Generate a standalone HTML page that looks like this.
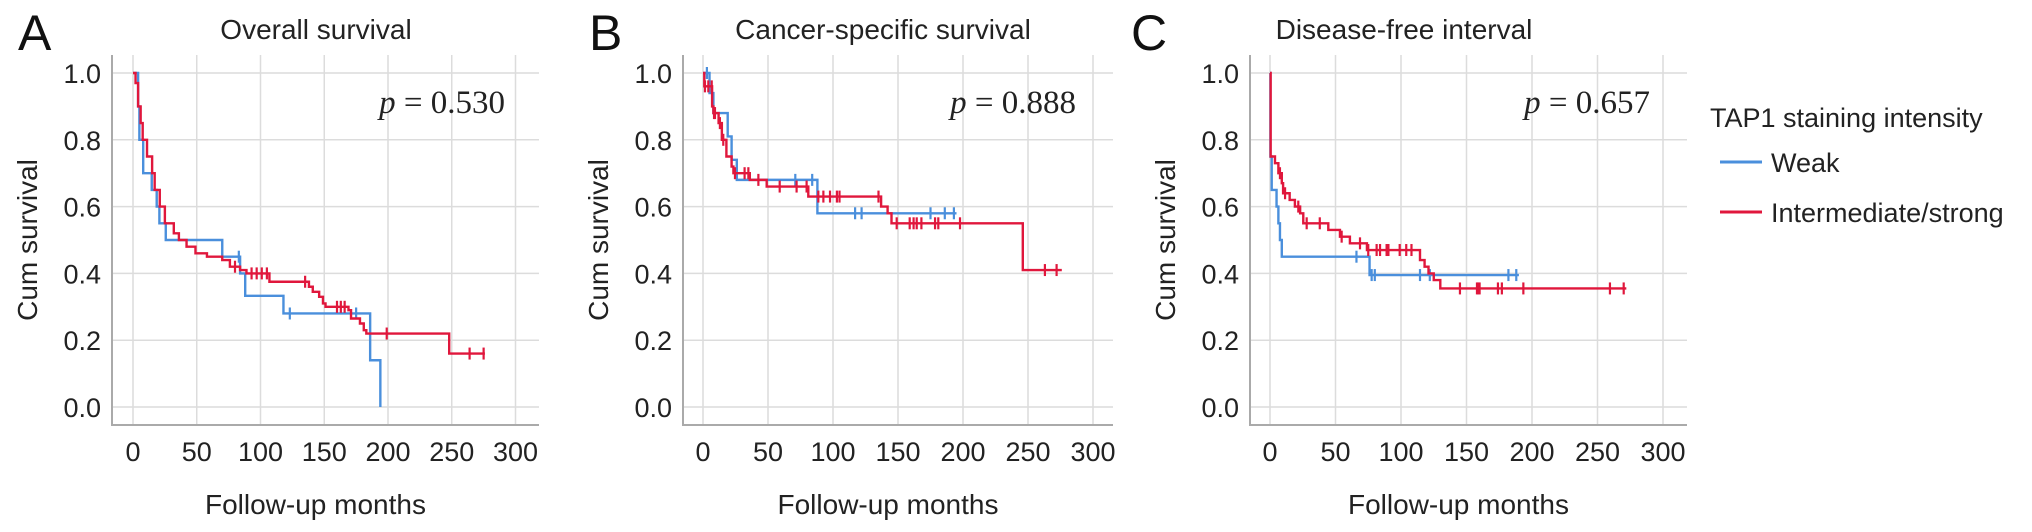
<!DOCTYPE html>
<html><head><meta charset="utf-8"><style>
html,body{margin:0;padding:0;background:#fff;}
svg{display:block;font-family:"Liberation Sans",Arial,sans-serif;}
</style></head><body>
<svg id="chart" width="2032" height="532" viewBox="0 0 2032 532" xmlns="http://www.w3.org/2000/svg"></svg>
<script>
// ---- data ----
const yTicks = [0, 0.2, 0.4, 0.6, 0.8, 1.0];
const xTicks = [0, 50, 100, 150, 200, 250, 300];
const panelTitles = ["Overall survival", "Cancer-specific survival", "Disease-free interval"];
const panelLetters = ["A", "B", "C"];
const pValues = ["0.530", "0.888", "0.657"];

const aWeakT = [0,4,5,8,14.7,18.6,20.7,25.7,70,84,88,118,186,194];
const aWeakS = [1,0.9,0.8,0.7,0.65,0.6,0.55,0.5,0.45,0.4,0.333,0.28,0.14,0];
const aWeakEnd = 194;
const aWeakCens = [83,123,175];
const aStrT = [0,2,4,6,7.6,11,15,17,21,25,32,36,42,49,58,70,76,84,89,107,138,141,146,149,151,169,171,178,181,183,248];
const aStrS = [1,0.97,0.9,0.85,0.8,0.75,0.7,0.65,0.6,0.55,0.52,0.5,0.48,0.46,0.45,0.44,0.42,0.41,0.4,0.375,0.36,0.345,0.33,0.31,0.3,0.29,0.265,0.25,0.23,0.22,0.16];
const aStrEnd = 276;
const aStrCens = [80,93,97,101,105,135,160,163,166,199,264,275];

const bWeakT = [0,5,8,19,22,26,88];
const bWeakS = [1,0.94,0.88,0.81,0.74,0.68,0.58];
const bWeakEnd = 195;
const bWeakCens = [3,71,84,117,122,175,186,193];
const bStrT = [0,1,7,8,12,14.5,18,22,23.4,36,49,81,137,142,145,246];
const bStrS = [1,0.96,0.9,0.88,0.85,0.8,0.75,0.72,0.7,0.68,0.66,0.63,0.6,0.58,0.55,0.41];
const bStrEnd = 276;
const bStrCens = [1.5,4.1,6.7,8.5,9.2,13,15.6,24.6,32,34.9,42.6,59,72,79.7,88.7,92.6,97.7,103,105,135,149,159,162,164.4,168,178.5,181,197.7,263,272];

const cWeakT = [0,0.3,1.3,5,6.4,7.6,9,76];
const cWeakS = [1,0.75,0.65,0.6,0.55,0.5,0.45,0.395];
const cWeakEnd = 190;
const cWeakCens = [66,77.6,80,114.5,122,182,188];
const cStrT = [0,0.5,3.8,6.4,9,10,15,19,23,25.4,44.5,53.4,61,74,114.5,118,121,125,130];
const cStrS = [1,0.75,0.73,0.7,0.67,0.64,0.62,0.6,0.58,0.55,0.53,0.51,0.49,0.47,0.44,0.42,0.4,0.38,0.355];
const cStrEnd = 272;
const cStrCens = [7.6,11.5,21.6,28,38,54.7,68.7,75,81.4,84,89,90.4,99,104,108,145,158,159,160,174,177,193.4,259.5,270];

// ---- layout ----
const NS = "http://www.w3.org/2000/svg";
const svg = document.getElementById("chart");
const BLUE = "#4a8fdc", RED = "#e0173c";
const panels = [
  {x0:133, k:1.275, left:112, right:539, titleX:316, letterX:18, pRight:505,
   series:[[aWeakT,aWeakS,aWeakEnd,aWeakCens,BLUE],[aStrT,aStrS,aStrEnd,aStrCens,RED]]},
  {x0:703, k:1.30, left:683, right:1113, titleX:883, letterX:589, pRight:1076,
   series:[[bWeakT,bWeakS,bWeakEnd,bWeakCens,BLUE],[bStrT,bStrS,bStrEnd,bStrCens,RED]]},
  {x0:1270, k:1.31, left:1250, right:1687, titleX:1404, letterX:1131, pRight:1650,
   series:[[cWeakT,cWeakS,cWeakEnd,cWeakCens,BLUE],[cStrT,cStrS,cStrEnd,cStrCens,RED]]}
];
const Y1 = 73, Y0 = 407, AXB = 425, AXT = 55;
function ys(s){ return Y0 - (Y0 - Y1) * s; }
function mk(tag, attrs, parent){
  const e = document.createElementNS(NS, tag);
  for (const k in attrs) e.setAttribute(k, attrs[k]);
  (parent || svg).appendChild(e);
  return e;
}
function survAt(T,S,t){ let v=S[0]; for(let i=0;i<T.length;i++){ if(T[i]<=t) v=S[i]; } return v; }

panels.forEach((p, pi) => {
  const xs = t => p.x0 + p.k * t;
  const g = mk("g", {});
  
  
  yTicks.forEach(v => {
    const l = mk("line", {x1:p.left, x2:p.right, y1:ys(v), y2:ys(v), stroke:"#dcdcdc", "stroke-width":1.5}, g);
    
    
    const t = mk("text", {x:p.left-11, y:ys(v)+10, "text-anchor":"end", "font-size":27, fill:"#222"}, g);
    t.textContent = v.toFixed(1);
    
    
  });
  xTicks.forEach(v => {
    const l = mk("line", {x1:xs(v), x2:xs(v), y1:AXT, y2:AXB, stroke:"#dcdcdc", "stroke-width":1.5}, g);
    
    
    const t = mk("text", {x:xs(v), y:AXB+36, "text-anchor":"middle", "font-size":27, fill:"#222"}, g);
    t.textContent = v;
    
    
  });
  const ax = mk("path", {d:`M${p.left} ${AXT} V${AXB} H${p.right}`, fill:"none", stroke:"#aaa", "stroke-width":2}, g);
  
  
  p.series.forEach((s, si) => {
    const [T,S,end,C,col] = s;
    let d = `M${xs(T[0])} ${ys(S[0])}`;
    for (let i=1;i<T.length;i++){ d += ` H${xs(T[i])} V${ys(S[i])}`; }
    d += ` H${xs(end)}`;
    const path = mk("path", {d, fill:"none", stroke:col, "stroke-width":2.4}, g);
    
    
    C.forEach(ct => {
      const yy = ys(survAt(T,S,ct));
      const m = mk("line", {x1:xs(ct), x2:xs(ct), y1:yy-6, y2:yy+6, stroke:col, "stroke-width":2.2}, g);
      
      
    });
  });
  const L = mk("text", {x:p.letterX, y:50, "font-size":50, fill:"#111"}, g);
  L.textContent = panelLetters[pi];
  
  
  const ti = mk("text", {x:p.titleX, y:39, "text-anchor":"middle", "font-size":28, fill:"#222"}, g);
  ti.textContent = panelTitles[pi];
  
  
  const xl = mk("text", {x:(p.left+p.right)/2 - 10, y:514, "text-anchor":"middle", "font-size":28, fill:"#222"}, g);
  xl.textContent = "Follow-up months";
  
  
  const yl = mk("text", {x:0, y:0, "text-anchor":"middle", "font-size":28, fill:"#222", transform:`translate(${p.left-75},${(Y0+Y1)/2}) rotate(-90)`}, g);
  yl.textContent = "Cum survival";
  
  
  const pt = mk("text", {x:p.pRight, y:113, "text-anchor":"end", "font-size":33, fill:"#222", "font-family":"Liberation Serif, serif"}, g);
  pt.innerHTML = '<tspan font-style="italic">p</tspan> = ' + pValues[pi];
  
  
});
const lg = mk("g", {});


const lt = mk("text", {x:1710, y:127, "font-size":27, fill:"#222"}, lg);
lt.textContent = "TAP1 staining intensity";


[["Weak", BLUE, 162],["Intermediate/strong", RED, 212]].forEach(e => {
  const l = mk("line", {x1:1720, x2:1762, y1:e[2], y2:e[2], stroke:e[1], "stroke-width":3}, lg);
  
  
  const t = mk("text", {x:1771, y:e[2]+10, "font-size":27, fill:"#222"}, lg);
  t.textContent = e[0];
  
  
});
</script>
</body></html>
